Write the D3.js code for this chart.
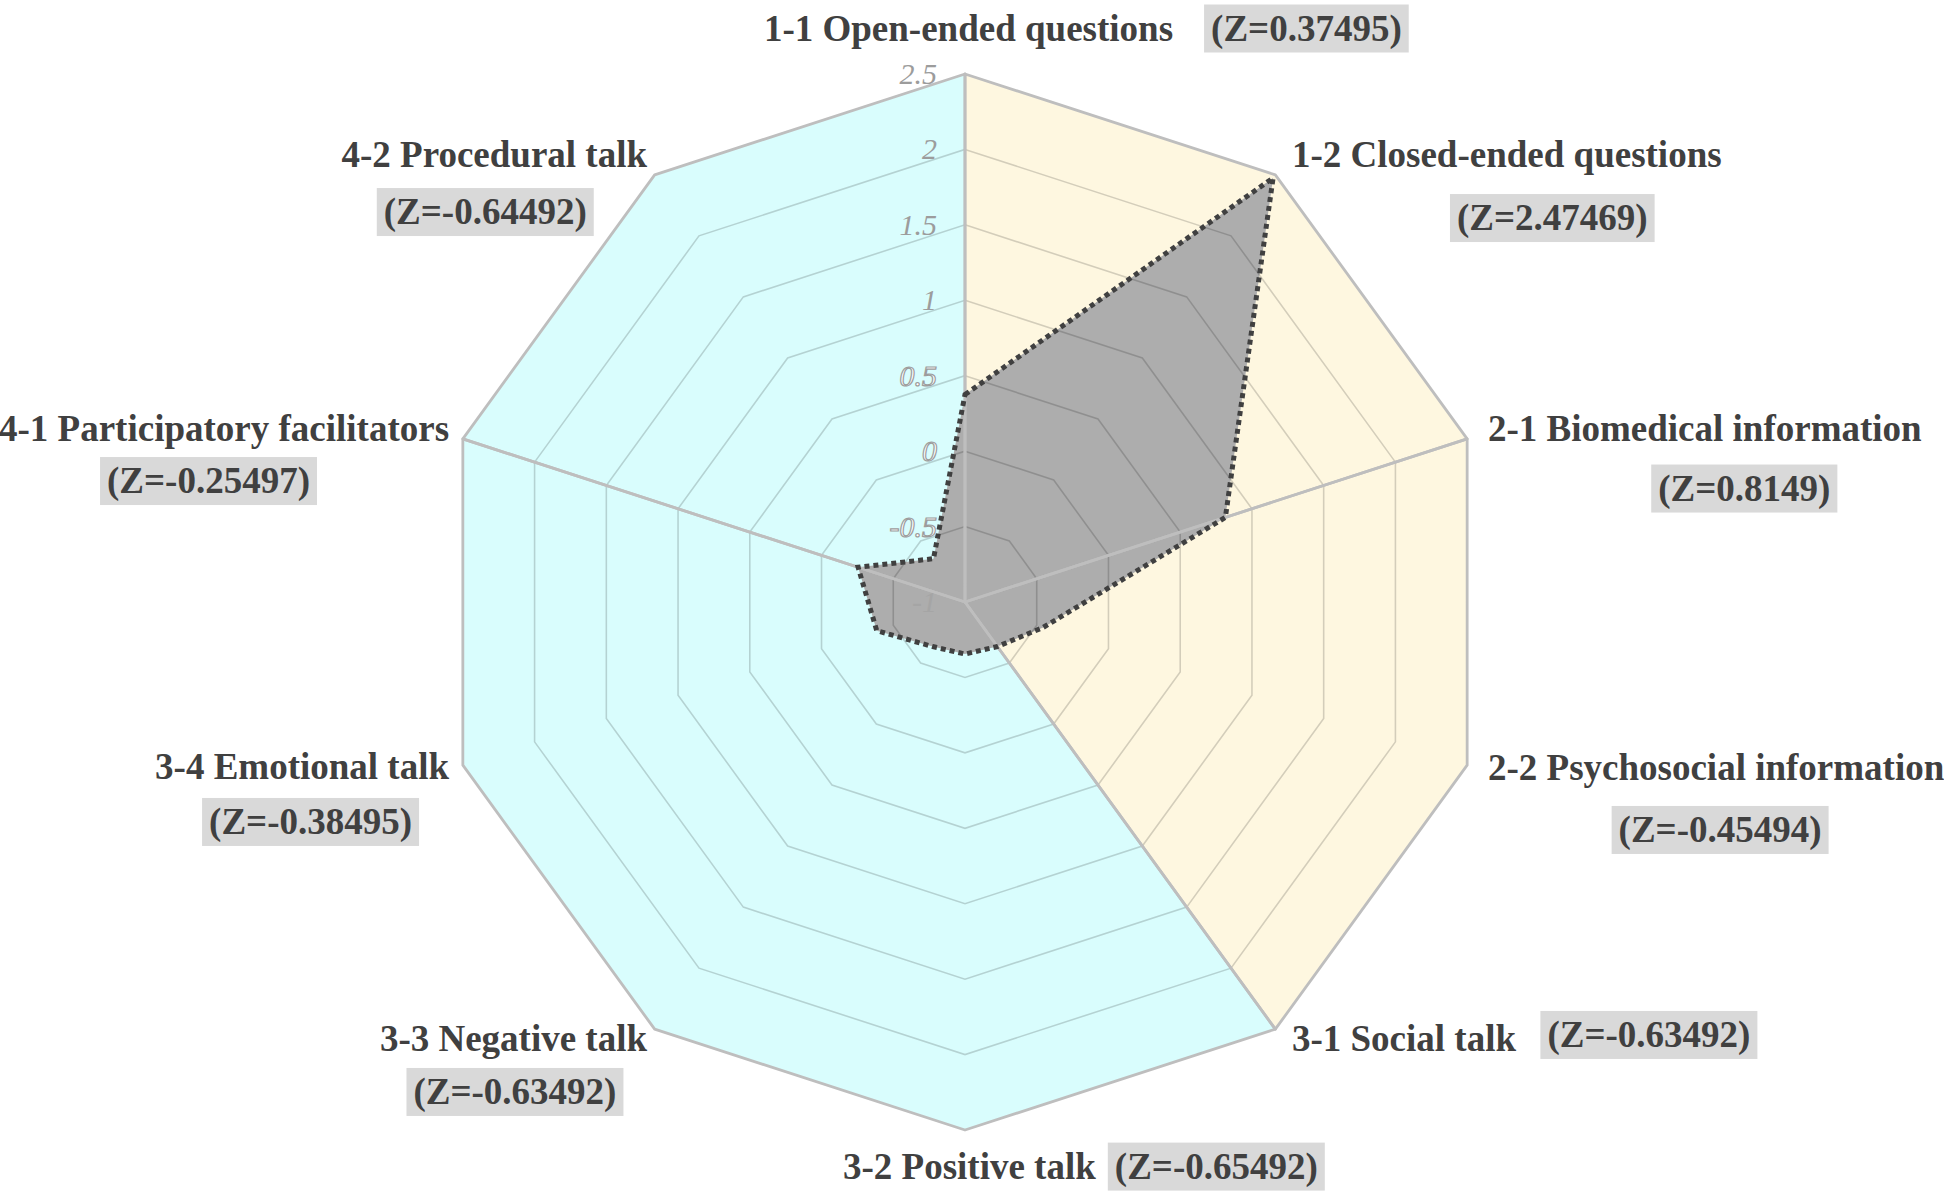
<!DOCTYPE html>
<html>
<head>
<meta charset="utf-8">
<script src="https://cdn.jsdelivr.net/npm/d3@7"></script>
<style>
  body { margin: 0; background: #fff; }
  svg text { font-family: "Liberation Serif", "Times New Roman", serif; }
</style>
</head>
<body>
<script>
// chart values
const categories = [
  "1-1 Open-ended questions",
  "1-2 Closed-ended questions",
  "2-1 Biomedical information",
  "2-2 Psychosocial information",
  "3-1 Social talk",
  "3-2 Positive talk",
  "3-3 Negative talk",
  "3-4 Emotional talk",
  "4-1 Participatory facilitators",
  "4-2 Procedural talk"
];
const zLabels = [
  "(Z=0.37495)", "(Z=2.47469)", "(Z=0.8149)", "(Z=-0.45494)", "(Z=-0.63492)",
  "(Z=-0.65492)", "(Z=-0.63492)", "(Z=-0.38495)", "(Z=-0.25497)", "(Z=-0.64492)"
];
const values = [0.37495, 2.47469, 0.8149, -0.45494, -0.63492, -0.65492, -0.63492, -0.38495, -0.25497, -0.64492];
// category groups (first axis, last axis) shaded behind the data
const groupStart = [0, 2, 4, 8];
const groupEnd = [2, 4, 8, 10];
const tickValues = [-1, -0.5, 0, 0.5, 1, 1.5, 2, 2.5];

const w = 1944;
const h = 1197;
const cx = 965;
const cy = 602;
const radius = 528;
const fontSize = 37;
const groupColor = ["#fef7e0", "#fef7e0", "#d9fdfd", "#d9fdfd"];

// label placement, relative to each axis end point
const labelLayout = [
  { dx: 3.5, dy: -45.5, anchor: "middle", box: "right", gap: 31, by: 0 },
  { dx: 16.6, dy: -19.8, anchor: "start", box: "below", bx: 45.5, by: 63 },
  { dx: 20.8, dy: -9.8, anchor: "start", box: "below", bx: 39.5, by: 59.5 },
  { dx: 20.8, dy: 2.2, anchor: "start", box: "below", bx: 4, by: 62.6 },
  { dx: 16.6, dy: 9.8, anchor: "start", box: "right", gap: 24.4, by: -4 },
  { dx: -122, dy: 36.6, anchor: "start", box: "right", gap: 12, by: 0 },
  { dx: -7.6, dy: 9.8, anchor: "end", box: "below", bx: 1.5, by: 53 },
  { dx: -13.8, dy: 1.8, anchor: "end", box: "below", bx: 8.5, by: 55 },
  { dx: -13.8, dy: -9.8, anchor: "end", box: "below", bx: -15.5, by: 52 },
  { dx: -7.6, dy: -19.8, anchor: "end", box: "below", bx: -9, by: 57 }
];

const n = categories.length;
const minVal = tickValues[0];
const maxVal = tickValues[tickValues.length - 1];

const rScale = d3.scaleLinear().domain([minVal, maxVal]).range([0, radius]);
const angleScale = d3.scaleLinear().domain([0, n]).range([0, 2 * Math.PI]);

const radial = d3.lineRadial()
  .angle(d => angleScale(d[0]))
  .radius(d => rScale(d[1]))
  .curve(d3.curveLinearClosed);

const pointAt = (i, v) => {
  const a = angleScale(i);
  const r = rScale(v);
  return [cx + r * Math.sin(a), cy - r * Math.cos(a)];
};

const svg = d3.select("body")
  .append("svg")
  .attr("width", w)
  .attr("height", h);

const plot = svg.append("g")
  .attr("transform", `translate(${cx}, ${cy})`);

// group sectors
const sectors = groupStart.map((s, g) => {
  const pts = [[0, minVal]];
  for (let i = s; i <= groupEnd[g]; i++) pts.push([i, maxVal]);
  return pts;
});

plot.selectAll(".sector")
  .data(sectors)
  .enter()
  .append("path")
  .attr("class", "sector")
  .attr("d", radial)
  .attr("fill", (d, g) => groupColor[g])
  .attr("stroke", "none");

// data area fill
const dataPts = values.map((v, i) => [i, v]);
plot.append("path")
  .attr("d", radial(dataPts))
  .attr("fill", "#adadad");

// grid rings
plot.selectAll(".ring")
  .data(tickValues.slice(1, -1))
  .enter()
  .append("path")
  .attr("class", "ring")
  .attr("d", t => radial(d3.range(n).map(i => [i, t])))
  .attr("fill", "none")
  .attr("stroke", "#000")
  .attr("stroke-opacity", 0.17)
  .attr("stroke-width", 1.6);

// sector outlines (outer frame + spokes)
plot.selectAll(".sector-line")
  .data(sectors)
  .enter()
  .append("path")
  .attr("class", "sector-line")
  .attr("d", radial)
  .attr("fill", "none")
  .attr("stroke", "#bebebe")
  .attr("stroke-width", 2.8)
  .attr("stroke-linejoin", "round");

// data outline
plot.append("path")
  .attr("d", radial(dataPts))
  .attr("fill", "none")
  .attr("stroke", "#404040")
  .attr("stroke-width", 5)
  .attr("stroke-dasharray", "5,4");

// axis tick labels
svg.selectAll(".tick-label")
  .data(tickValues)
  .enter()
  .append("text")
  .attr("class", "tick-label")
  .attr("x", cx - 28)
  .attr("y", d => cy - rScale(d) + 10)
  .attr("text-anchor", "end")
  .attr("font-size", 30)
  .attr("font-style", "italic")
  .attr("fill", d => (d <= 0.5 && d > minVal) ? "#fff" : "#9c9c9c")
  .attr("stroke", d => (d <= 0.5 && d > minVal) ? "#9c9c9c" : "none")
  .attr("stroke-width", 1.2)
  .attr("opacity", d => d === minVal ? 0.45 : 1)
  .text(d => d);

// category labels
const labels = svg.selectAll(".label")
  .data(categories)
  .enter()
  .append("g")
  .attr("class", "label");

labels.each(function(name, i) {
  const g = d3.select(this);
  const lay = labelLayout[i];
  const [vx, vy] = pointAt(i, maxVal);
  const nx = vx + lay.dx;
  const ny = vy + lay.dy;
  const nameText = g.append("text")
    .attr("x", nx)
    .attr("y", ny + fontSize * 0.33)
    .attr("text-anchor", lay.anchor)
    .attr("font-size", fontSize)
    .attr("font-weight", "bold")
    .attr("fill", "#404040")
    .text(name);
  const nw = nameText.node().getComputedTextLength();
  const nStart = lay.anchor === "start" ? nx : lay.anchor === "end" ? nx - nw : nx - nw / 2;

  const boxG = g.append("g");
  const rect = boxG.append("rect").attr("fill", "#d9d9d9");
  const zText = boxG.append("text")
    .attr("text-anchor", "middle")
    .attr("font-size", fontSize)
    .attr("font-weight", "bold")
    .attr("fill", "#404040")
    .text(zLabels[i]);
  const zw = zText.node().getComputedTextLength();
  const bw = zw + 14;
  const bh = 48;
  let bcx, bcy;
  if (lay.box === "right") {
    bcx = nStart + nw + lay.gap + bw / 2;
    bcy = ny + lay.by;
  } else {
    bcx = nStart + nw / 2 + lay.bx;
    bcy = ny + lay.by;
  }
  rect.attr("x", bcx - bw / 2).attr("y", bcy - bh / 2).attr("width", bw).attr("height", bh);
  zText.attr("x", bcx).attr("y", bcy + fontSize * 0.33);
});
</script>
</body>
</html>
